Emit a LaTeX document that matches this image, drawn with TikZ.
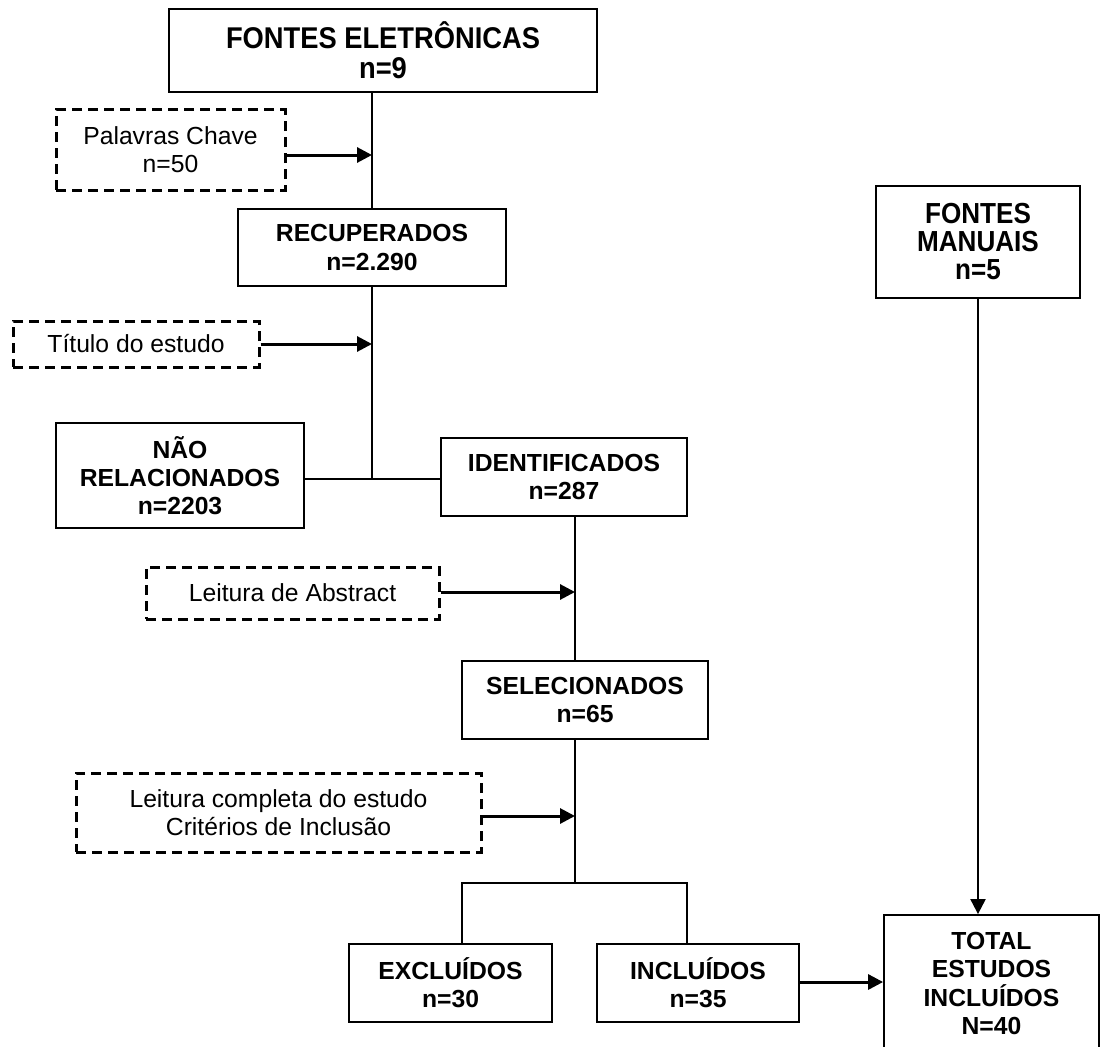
\documentclass[tikz,border=0pt]{standalone}
\usepackage{fontspec}
\setmainfont{Liberation Sans}
\newfontfamily\tallA[FakeStretch=0.91]{Liberation Sans}
\newfontfamily\tallB[FakeStretch=0.9]{Liberation Sans}
\usetikzlibrary{arrows.meta}
\begin{document}
\begin{tikzpicture}[x=1pt,y=-1pt,
  box/.style={draw, line width=1.8pt, rectangle, inner sep=0pt, align=center,
    font=\bfseries\fontsize{24.7}{28.3}\selectfont},
  dbox/.style={draw, dash pattern=on 10pt off 6pt, line width=3pt, rectangle, inner sep=0pt,
    align=center, font=\fontsize{24.7}{28.3}\selectfont},
  conn/.style={line width=1.1pt},
  mconn/.style={line width=1.6pt},
  arr/.style={line width=3pt, -{Triangle[length=15pt,width=15pt]}},
  varr/.style={line width=2pt, -{Triangle[length=15pt,width=15pt]}},
]
\useasboundingbox (0,0) rectangle (1102,1046);

% nodes
\node[box, minimum width=428pt, minimum height=83pt, font=\tallA\bfseries\fontsize{30}{29.8}\selectfont] (fe) at (383,50.5) {FONTES ELETRÔNICAS\\n=9};
\node[dbox, minimum width=229pt, minimum height=80pt] (pc) at (170.5,150) {Palavras Chave\\n=50};
\node[box, minimum width=268pt, minimum height=77pt] (rec) at (372,247.5) {RECUPERADOS\\n=2.290};
\node[dbox, minimum width=246pt, minimum height=46pt] (ts) at (136,344) {Título do estudo};
\node[box, minimum width=248pt, minimum height=105pt] (nr) at (180,475.5) {NÃO\\RELACIONADOS\\n=2203};
\node[box, minimum width=246pt, minimum height=78pt] (id) at (564,477) {IDENTIFICADOS\\n=287};
\node[dbox, minimum width=293pt, minimum height=52pt] (la) at (292.5,593) {Leitura de Abstract};
\node[box, minimum width=246pt, minimum height=78pt] (sel) at (585,700) {SELECIONADOS\\n=65};
\node[dbox, minimum width=405pt, minimum height=79pt] (lc) at (278.5,812.5) {Leitura completa do estudo\\Critérios de Inclusão};
\node[box, minimum width=203pt, minimum height=78pt] (exc) at (450.5,983) {EXCLUÍDOS\\n=30};
\node[box, minimum width=202pt, minimum height=78pt] (inc) at (698,983) {INCLUÍDOS\\n=35};
\node[box, minimum width=215pt, minimum height=137pt] (tot) at (991.5,983.5) {TOTAL\\ESTUDOS\\INCLUÍDOS\\N=40};
\node[box, minimum width=204pt, minimum height=112pt, font=\tallB\bfseries\fontsize{29}{28}\selectfont] (fm) at (978,242) {FONTES\\MANUAIS\\n=5};

% junction coordinates
\coordinate (a1) at (372,155);
\coordinate (a2) at (372,344);
\coordinate (j1) at (372,479);
\coordinate (a3) at (575,592);
\coordinate (a4) at (575,816);
\coordinate (j2) at (575,883);
\coordinate (bl) at (462,883);
\coordinate (br) at (687,883);

% left spine
\draw[conn] (fe.south -| rec.north) -- (rec.north);
\draw[conn] (rec.south) -- (j1);
\draw[conn] (nr.east |- j1) -- (id.west |- j1);
\draw[arr] (pc.east |- a1) -- (a1);
\draw[arr] (ts.east |- a2) -- (a2);

% middle spine
\draw[mconn] (id.south -| a3) -- (sel.north -| a3);
\draw[arr] (la.east |- a3) -- (a3);
\draw[mconn] (sel.south -| j2) -- (j2);
\draw[arr] (lc.east |- a4) -- (a4);
\draw[mconn] (exc.north -| bl) -- (bl) -- (br) -- (inc.north -| br);

% right
\draw[arr] (inc.east |- 0,982) -- (tot.west |- 0,982);
\draw[varr] (fm.south) -- (tot.north -| fm.south);
\end{tikzpicture}
\end{document}
